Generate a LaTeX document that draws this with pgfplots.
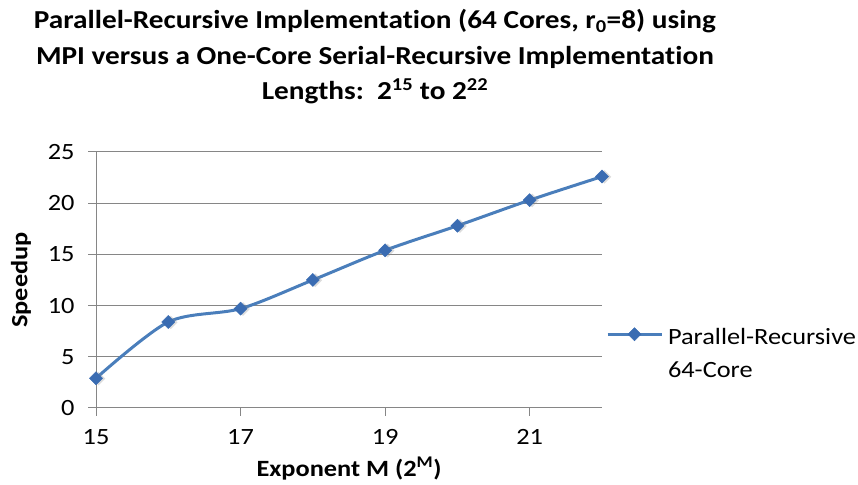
\documentclass[border=0pt]{standalone}
\usepackage{fontspec}
\setmainfont{Carlito}[FakeStretch=1.13, Ligatures=NoCommon]
\usepackage{pgfplots}
\pgfplotsset{compat=1.18}
\definecolor{serieblue}{RGB}{74,126,187}
\definecolor{markblue}{RGB}{58,108,178}
\definecolor{gridgray}{RGB}{134,134,134}
\begin{document}
\begin{tikzpicture}[x=1bp,y=1bp]
\useasboundingbox (0,0) rectangle (858,485);
\begin{axis}[
  at={(96bp,77bp)}, anchor=south west,
  scale only axis, width=506bp, height=256bp,
  xmin=15, xmax=22, ymin=0, ymax=25,
  xtick={15,17,19,21}, ytick={0,5,10,15,20,25},
  axis x line*=bottom, axis y line*=left,
  axis line style={gridgray, line width=1bp},
  ymajorgrids, grid style={gridgray, line width=1bp},
  tick style={gridgray, line width=1bp},
  major tick length=8bp, tick align=outside,
  /pgf/number format/assume math mode=true,
  ticklabel style={font=\fontsize{23.4}{28}\selectfont, text=black},
  yticklabel style={xshift=-10bp},
  xticklabel style={yshift=-10bp},
  xlabel={Exponent M (2\textsuperscript{M})},
  ylabel={Speedup},
  label style={font=\bfseries\fontsize{23.4}{28}\selectfont},
  xlabel style={at={(axis description cs:0.5,-0.2695)}, anchor=base},
  ylabel style={at={(axis description cs:-0.148,0.5)}, anchor=center},
  legend style={at={(axis description cs:1.0079,0.336)}, anchor=north west,
    draw=none, fill=none, inner sep=0pt, outer sep=0pt, column sep=5bp,
    nodes={inner sep=0pt},
    font=\fontsize{23.4}{33}\selectfont},
  legend image code/.code={\draw[#1, mark repeat=2, mark phase=2]
    plot coordinates {(0bp,0bp) (27bp,0bp) (54bp,0bp)};},
]
% soft drop shadow under the markers
\addplot[draw=none, forget plot, mark=square*, mark size=4.8bp,
  mark options={rotate=45, fill=black!45, draw opacity=0, fill opacity=0.3,
    xshift=1.5bp, yshift=-2bp}]
  coordinates {
  (15,2.9) (16,8.4) (17,9.7) (18,12.5)
  (19,15.4) (20,17.8) (21,20.3) (22,22.6)
};
\addplot[serieblue, line width=3bp, smooth, tension=0.5,
  mark=square*, mark size=4.6bp,
  mark options={rotate=45, fill=markblue, draw=markblue, line width=0.5bp}]
  coordinates {
  (15,2.9) (16,8.4) (17,9.7) (18,12.5)
  (19,15.4) (20,17.8) (21,20.3) (22,22.6)
};
\addlegendentry{\begin{tabular}[t]{@{}l@{}}Parallel-Recursive\\64-Core\end{tabular}}
\end{axis}
\begin{scope}[every node/.style={font=\bfseries\fontsize{26}{31}\selectfont, anchor=base}]
\node at (375,456) {Parallel-Recursive Implementation (64 Cores, r\textsubscript{0}=8) using};
\node at (375,420.5) {MPI versus a One-Core Serial-Recursive Implementation};
\node at (375,385) {Lengths:\ \ 2\textsuperscript{15} to 2\textsuperscript{22}};
\end{scope}
\end{tikzpicture}
\end{document}
